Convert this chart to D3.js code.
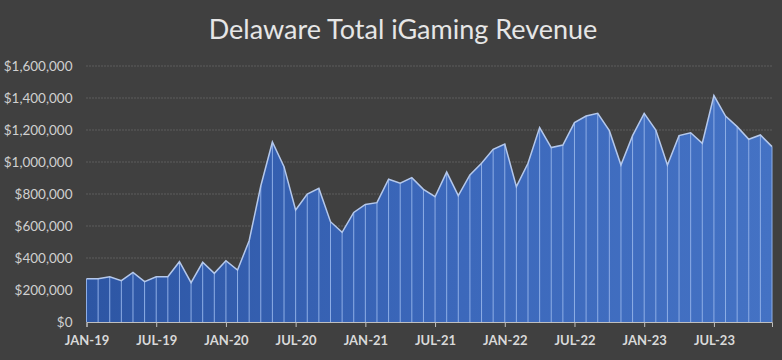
<!DOCTYPE html>
<html><head><meta charset="utf-8">
<script src="https://cdn.jsdelivr.net/npm/d3@7"></script>
<style>html,body{margin:0;padding:0;background:#404040;}svg{display:block;}</style>
</head><body>
<svg id="c" width="782" height="360"></svg>
<script>
const title = "Delaware Total iGaming Revenue";
const startYear = 2019;
const revenue = [
 270000,270000,283000,258000,310000,252000,283000,283000,377000,246000,373000,304000,
 383000,325000,508000,850000,1125000,971000,700000,800000,835000,627000,560000,685000,
 735000,746000,892000,867000,902000,829000,783000,937000,790000,919000,992000,1079000,
 1112000,846000,992000,1215000,1090000,1106000,1246000,1287000,1304000,1196000,981000,1165000,
 1304000,1200000,981000,1165000,1183000,1117000,1415000,1287000,1221000,1142000,1169000,1096000
];
const yTicks = [0,200000,400000,600000,800000,1000000,1200000,1400000,1600000];
const monthNames = ["JAN","FEB","MAR","APR","MAY","JUN","JUL","AUG","SEP","OCT","NOV","DEC"];
const labels = revenue.map((v,i)=> monthNames[i%12] + "-" + String((startYear + Math.floor(i/12))%100).padStart(2,"0"));
const tickIdx = d3.range(0, revenue.length, 6);

(function(){
const svg = d3.select("#c");
const mL = 86.5, mR = 772, mT = 66, mB = 322;
const x = d3.scaleLinear().domain([0, revenue.length-1]).range([mL, mR]);
const y = d3.scaleLinear().domain([0, 1600000]).range([mB, mT]);

svg.append("rect").attr("width",782).attr("height",360).attr("fill","#404040");

svg.append("text").attr("x",403).attr("y",39).attr("text-anchor","middle")
  .attr("fill","#e6e6e6").attr("font-family","Lato, 'Open Sans', sans-serif").attr("font-size",27)
  .text(title);

svg.append("g").selectAll("line").data(yTicks.filter(d=>d>0)).join("line")
  .attr("x1",mL).attr("x2",mR).attr("y1",d=>y(d)).attr("y2",d=>y(d))
  .attr("stroke","#7a7a7a").attr("stroke-width",1).attr("stroke-dasharray","1,2");

const defs = svg.append("defs");
const g = defs.append("linearGradient").attr("id","fillg").attr("x1","0").attr("x2","1").attr("y1","0").attr("y2","0");
g.append("stop").attr("offset","0").attr("stop-color","#2d56a4");
g.append("stop").attr("offset","0.5").attr("stop-color","#3b67ba");
g.append("stop").attr("offset","1").attr("stop-color","#4472c4");

const area = d3.area().x((d,i)=>x(i)).y0(y(0)).y1(d=>y(d));
svg.append("path").datum(revenue).attr("d",area).attr("fill","url(#fillg)");

svg.append("g").selectAll("line").data(revenue).join("line")
  .attr("x1",(d,i)=>x(i)).attr("x2",(d,i)=>x(i)).attr("y1",y(0)).attr("y2",d=>y(d))
  .attr("stroke","#8eaee6").attr("stroke-width",1);

const line = d3.line().x((d,i)=>x(i)).y(d=>y(d));
svg.append("path").datum(revenue).attr("d",line).attr("fill","none")
  .attr("stroke","#b4c8ec").attr("stroke-width",1.5);

const ya = svg.append("g").attr("transform",`translate(${mL-14},0)`)
  .call(d3.axisLeft(y).tickValues(yTicks).tickSize(0).tickPadding(0).tickFormat(d=>"$"+d3.format(",")(d)));
ya.select(".domain").remove();
ya.selectAll("text").attr("fill","#d0d0d0").attr("font-family","Lato, 'Open Sans', sans-serif").attr("font-size",13.5);

const xa = svg.append("g").attr("transform",`translate(0,${mB})`)
  .call(d3.axisBottom(x).tickValues(tickIdx).tickSize(5).tickPadding(9).tickFormat(i=>labels[i]));
xa.select(".domain").attr("stroke","#bfbfbf");
xa.selectAll(".tick line").attr("stroke","#bfbfbf");
xa.selectAll("text").attr("fill","#d9d9d9").attr("font-family","Lato, 'Open Sans', sans-serif")
  .attr("font-size",13).attr("font-weight","bold");
})();
</script>
</body></html>
